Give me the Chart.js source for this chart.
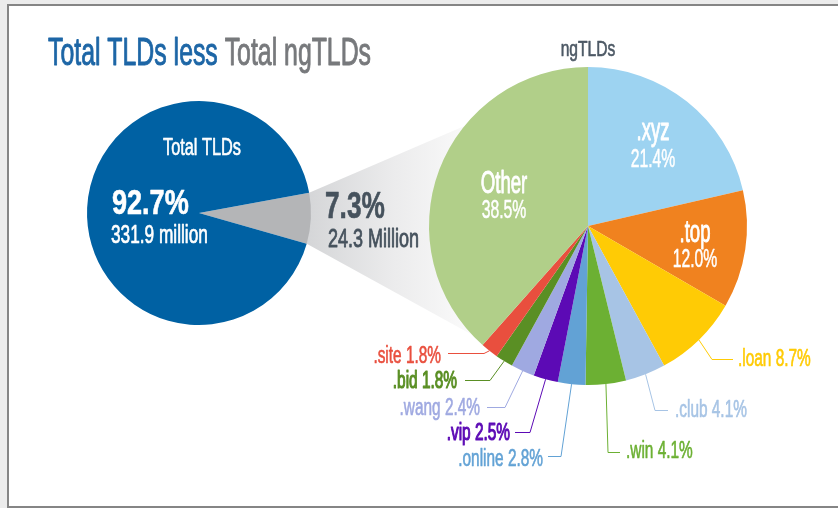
<!DOCTYPE html>
<html><head><meta charset="utf-8">
<script src="https://cdn.jsdelivr.net/npm/chart.js@4/dist/chart.umd.min.js"></script>
<style>
html,body{margin:0;padding:0;width:838px;height:508px;overflow:hidden;background:#ececec;}
#frame{position:absolute;left:7px;top:4px;width:900px;height:504px;box-sizing:border-box;border:2px solid #858585;background:#fff;}
canvas{position:absolute;left:0;top:0;}
</style></head><body>
<div id="frame"></div>
<canvas id="left" width="838" height="508"></canvas>
<canvas id="right" width="838" height="508"></canvas>
<script>
// ---- data ----
const totalLabels = ['Total ngTLDs', 'Total TLDs'];
const totalShares = [7.3, 92.7];
const totalCounts = ['24.3 Million', '331.9 million'];
const ngLabels = ['.xyz', '.top', '.loan', '.club', '.win', '.online', '.vip', '.wang', '.bid', '.site', 'Other'];
const ngShares = [21.4, 12.0, 8.7, 4.1, 4.1, 2.8, 2.5, 2.4, 1.8, 1.8, 38.5];

// ---- styles ----
const totalColors = ['#b4b5b7', '#0061a3'];
const ngColors = ['#9dd3f1', '#f0821f', '#ffcb05', '#a7c4e5', '#6cb033', '#62a2d5', '#5c0ab5', '#9fa9e1', '#5a8f24', '#e94f3e', '#b1cf89'];
const FONT = '"Liberation Sans", Arial, sans-serif';

function txt(ctx, s, x, y, size, color, align, sx, bold, weight, sy) {
  ctx.save();
  ctx.font = (bold ? 'bold ' : '') + size + 'px ' + FONT;
  ctx.fillStyle = color;
  ctx.strokeStyle = color;
  ctx.textBaseline = 'alphabetic';
  ctx.textAlign = 'left';
  const w = ctx.measureText(s).width * sx;
  const x0 = align === 'center' ? x - w / 2 : align === 'right' ? x - w : x;
  ctx.translate(x0, y);
  ctx.scale(sx, sy || 1.06);
  ctx.fillText(s, 0, 0);
  if (weight) { ctx.lineWidth = weight; ctx.lineJoin = 'round'; ctx.strokeText(s, 0, 0); }
  ctx.restore();
  return w;
}
const pct = v => v.toFixed(1) + '%';

// inner labels of ngTLD pie: [index, x, nameBaseline, pctBaseline]
const innerLayout = [[0, 653, 140, 167], [1, 695, 242, 267], [10, 504, 193, 218]];
// outer labels: [index, elbowX, elbowY, lineEndX, textX, align, baseline]
const outerLayout = [
  [9, 484, 353, 448, 441, 'right', 363],
  [8, 490, 380, 465, 457, 'right', 388],
  [7, 505, 407, 487, 480, 'right', 415],
  [6, 530, 432, 515, 510, 'right', 440],
  [5, 561, 456, 548, 543, 'right', 466],
  [4, 608, 452, 620, 626, 'left', 458],
  [3, 655, 410, 668, 675, 'left', 417],
  [2, 712, 359, 733, 738, 'left', 366]
];

const rightPlugin = {
  id: 'rightLabels',
  afterDatasetsDraw(chart) {
    const ctx = chart.ctx;
    const arcs = chart.getDatasetMeta(0).data;
    const cx = arcs[0].x;
    txt(ctx, 'ngTLDs', cx, 56, 20, '#4d5965', 'center', 0.78, false, 0.6);
    innerLayout.forEach(([i, x, y1, y2]) => {
      txt(ctx, ngLabels[i], x, y1, 30, '#ffffff', 'center', 0.62, false, 0.9);
      txt(ctx, pct(ngShares[i]), x, y2, 25, '#ffffff', 'center', 0.63, false, 0.5);
    });
    outerLayout.forEach(([i, ex, ey, lx, tx, align, by]) => {
      const a = arcs[i];
      const mid = (a.startAngle + a.endAngle) / 2;
      const sxp = a.x + a.outerRadius * Math.cos(mid);
      const syp = a.y + a.outerRadius * Math.sin(mid);
      ctx.save();
      ctx.strokeStyle = ngColors[i];
      ctx.lineWidth = 1;
      ctx.beginPath();
      ctx.moveTo(sxp, syp);
      ctx.lineTo(ex, ey + 0.5);
      ctx.lineTo(lx, ey + 0.5);
      ctx.stroke();
      ctx.restore();
      const heavy = (i === 6 || i === 8) ? 1.1 : 0.6;
      txt(ctx, ngLabels[i] + ' ' + pct(ngShares[i]), tx, by, 22, ngColors[i], align, 0.7, false, heavy);
    });
  }
};

const rightChart = new Chart(document.getElementById('right'), {
  type: 'pie',
  data: { labels: ngLabels, datasets: [{ data: ngShares, backgroundColor: ngColors, borderWidth: 0 }] },
  options: {
    responsive: false, animation: false, devicePixelRatio: 1,
    rotation: 0,
    layout: { padding: { left: 429, right: 91, top: 67, bottom: 123 } },
    plugins: { legend: { display: false }, tooltip: { enabled: false }, title: { display: false } }
  },
  plugins: [rightPlugin]
});

const funnelAngles = [-141, 136.8];
const leftPlugin = {
  id: 'leftDecor',
  beforeDatasetsDraw(chart) {
    const ctx = chart.ctx;
    const g = chart.getDatasetMeta(0).data[0];
    const rc = rightChart.getDatasetMeta(0).data[0];
    const p1 = [g.x + g.outerRadius * Math.cos(g.startAngle), g.y + g.outerRadius * Math.sin(g.startAngle)];
    const p2 = [g.x + g.outerRadius * Math.cos(g.endAngle), g.y + g.outerRadius * Math.sin(g.endAngle)];
    const a1 = funnelAngles[0] * Math.PI / 180, a2 = funnelAngles[1] * Math.PI / 180;
    const t1 = [rc.x + rc.outerRadius * Math.cos(a1), rc.y + rc.outerRadius * Math.sin(a1)];
    const t2 = [rc.x + rc.outerRadius * Math.cos(a2), rc.y + rc.outerRadius * Math.sin(a2)];
    const grad = ctx.createLinearGradient(p1[0], 0, t1[0] + 10, 0);
    grad.addColorStop(0, '#d5d6d8');
    grad.addColorStop(0.5, '#ebebec');
    grad.addColorStop(1, '#fbfbfb');
    ctx.save();
    ctx.fillStyle = grad;
    ctx.beginPath();
    ctx.moveTo(p1[0], p1[1]);
    ctx.lineTo(t1[0], t1[1]);
    ctx.lineTo(rc.x, rc.y);
    ctx.lineTo(t2[0], t2[1]);
    ctx.lineTo(p2[0], p2[1]);
    ctx.closePath();
    ctx.fill();
    ctx.restore();
  },
  afterDatasetsDraw(chart) {
    const ctx = chart.ctx;
    const w = txt(ctx, 'Total TLDs less ', 48, 65, 36, '#1d66a6', 'left', 0.69, false, 0.9);
    txt(ctx, 'Total ngTLDs', 48 + w, 65, 36, '#77797c', 'left', 0.69, false, 0.9);
    txt(ctx, totalLabels[1], 202, 155, 23, '#ffffff', 'center', 0.71, false, 0.6);
    txt(ctx, pct(totalShares[1]), 112, 214, 33, '#ffffff', 'left', 0.82, true, 0.6);
    txt(ctx, totalCounts[1], 111, 243, 25, '#ffffff', 'left', 0.69, false, 0.7);
    txt(ctx, pct(totalShares[0]), 325, 218, 35, '#46525d', 'left', 0.75, true, 0.6);
    txt(ctx, totalCounts[0], 328, 247, 24, '#46525d', 'left', 0.75, false, 0.8);
  }
};

new Chart(document.getElementById('left'), {
  type: 'pie',
  data: { labels: totalLabels, datasets: [{ data: totalShares, backgroundColor: totalColors, borderWidth: 0 }] },
  options: {
    responsive: false, animation: false, devicePixelRatio: 1,
    rotation: 79.6,
    layout: { padding: { left: 87, right: 527, top: 101, bottom: 183 } },
    plugins: { legend: { display: false }, tooltip: { enabled: false }, title: { display: false } }
  },
  plugins: [leftPlugin]
});
</script>
</body></html>
